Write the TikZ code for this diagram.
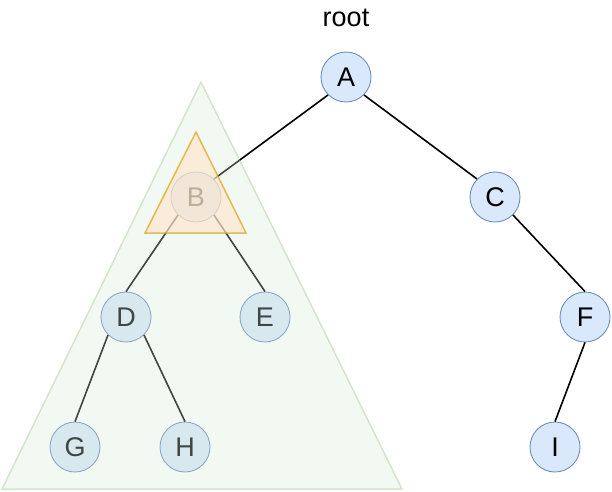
\documentclass[tikz,border=0pt]{standalone}
\usepackage{fontspec}
\setmainfont{Liberation Sans}
\definecolor{nodefill}{HTML}{DAE8FC}
\definecolor{nodedraw}{HTML}{6C8EBF}
\definecolor{greenfill}{HTML}{D5E8D4}
\definecolor{greendraw}{HTML}{82B366}
\definecolor{orangefill}{HTML}{FFE6CC}
\definecolor{orangedraw}{HTML}{D79B00}
\begin{document}
\begin{tikzpicture}[x=1pt,y=-1pt,
  treenode/.style={circle,minimum size=50pt,inner sep=0pt,draw=nodedraw,fill=nodefill,line width=0.9pt,font=\fontsize{27}{31}\selectfont},
  edge/.style={draw=black,line width=1.6pt},
  subtree/.style={fill=greenfill,draw=greendraw,line width=1.5pt,fill opacity=0.3,draw opacity=0.3},
  subroot/.style={fill=orangefill,draw=orangedraw,line width=1.5pt,fill opacity=0.65,draw opacity=0.65}]
\useasboundingbox (0,0) rectangle (612,491);
\node[font=\fontsize{27}{31}\selectfont] (root) at (346,18) {root};
\node[treenode] (A) at (346,77) {A};
\node[treenode] (B) at (196,197) {B};
\node[treenode] (C) at (495,197) {C};
\node[treenode] (D) at (126,317) {D};
\node[treenode] (E) at (265,317) {E};
\node[treenode] (F) at (585,317) {F};
\node[treenode] (G) at (75,447) {G};
\node[treenode] (H) at (185,447) {H};
\node[treenode] (I) at (555,447) {I};
\draw[edge] (A.south west) -- (B.north east);
\draw[edge] (A.south east) -- (C.north west);
\draw[edge] (B.south west) -- (D.north);
\draw[edge] (B.south east) -- (E.north);
\draw[edge] (C.south east) -- (F.north);
\draw[edge] (D.south west) -- (G.north);
\draw[edge] (D.south east) -- (H.north);
\draw[edge] (F.south) -- (I.north);
\coordinate (gt) at (201,82);
\coordinate (gl) at (2,489);
\coordinate (gr) at (402,489);
\path[subtree] (gt) -- (gl) -- (gr) -- cycle;
\coordinate (ot) at (196,132);
\coordinate (ol) at (145,233);
\coordinate (or) at (246,233);
\path[subroot] (ot) -- (ol) -- (or) -- cycle;
\end{tikzpicture}
\end{document}
